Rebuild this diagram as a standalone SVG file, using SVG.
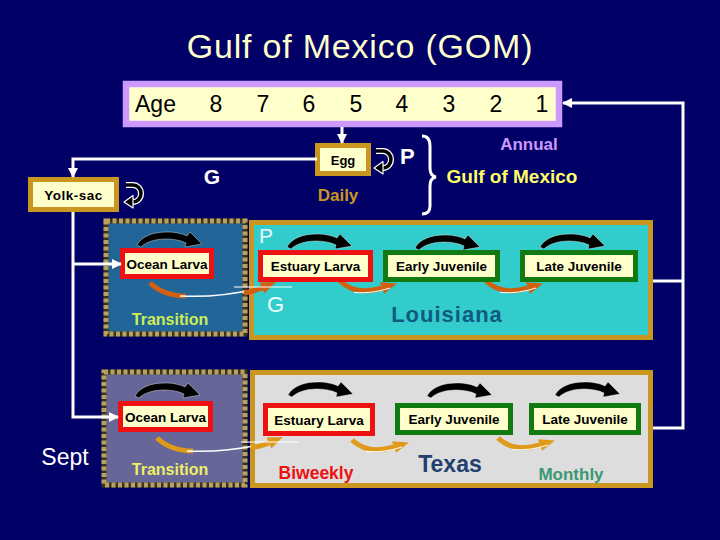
<svg xmlns="http://www.w3.org/2000/svg" width="720" height="540" viewBox="0 0 720 540">
<defs>
<style>
text{font-family:"Liberation Sans",Arial,Helvetica,sans-serif}
.bt{font-size:13.5px;font-weight:bold;fill:#000;text-anchor:middle}
.cream{fill:#FFFFCC}
.gold{stroke:#C9961F;stroke-width:5}
.red{stroke:#EE1111;stroke-width:5}
.green{stroke:#117A11;stroke-width:5}
.conn{fill:none;stroke:#fff;stroke-width:3}
.dotsbg{fill:none;stroke:#3A3520;stroke-width:5}
.dots{fill:none;stroke:#B8A060;stroke-width:5;stroke-dasharray:4 2.5}
.num{font-size:23px;fill:#000;text-anchor:middle}
</style>
<marker id="ah" markerUnits="userSpaceOnUse" markerWidth="10" markerHeight="10" refX="9" refY="5" orient="auto"><path d="M0,0 L10,5 L0,10 Z" fill="#fff"/></marker>
<path id="blk" d="M0,12 C5,3 16,-1 30,-1 C39,-1 46,1 50,3 L53,-1 L65,11 L48,14 L49,10 C43,7 36,6 29,6 C18,6 9,9 4,14 Z" fill="#000" stroke="#fff" stroke-width="0.4"/>
<g id="curl">
<path d="M3,3 H10 A8,8.5 0 0 1 10,20 H9" fill="none" stroke="#fff" stroke-width="6"/>
<path d="M3,3 H10 A8,8.5 0 0 1 10,20 H9" fill="none" stroke="#000" stroke-width="3.5"/>
<path d="M10,13.5 L10,26 L1,20 Z" fill="#000" stroke="#fff" stroke-width="1.2" stroke-linejoin="round"/>
</g>
<g id="orS">
<path d="M0,0 Q16,15 42,7" fill="none" stroke="currentColor" stroke-width="5"/>
<path d="M40,1.3 L57,2.4 L44,12.7 Z" fill="currentColor"/>
<path d="M14,11.5 Q32,13 50,7" fill="none" stroke="#fff" stroke-width="1"/>
</g>
<g id="orL">
<path d="M0,0 Q14,13 36,13" fill="none" stroke="currentColor" stroke-width="5"/>
<path d="M30,13 Q70,15 110,5" fill="none" stroke="#fff" stroke-width="1.5"/>
<path d="M94,10 Q105,8 112,5" fill="none" stroke="currentColor" stroke-width="5"/>
<path d="M109.7,-0.5 L126,-1 L114.3,10.5 Z" fill="currentColor"/>
<path d="M84,4 H142" fill="none" stroke="#fff" stroke-width="1"/>
</g>
</defs>

<rect x="0" y="0" width="720" height="540" fill="#000066"/>

<text id="title" x="360" y="58" font-size="34" letter-spacing="0.8" fill="#FFFFCC" text-anchor="middle">Gulf of Mexico (GOM)</text>

<g id="age-bar">
<rect x="126" y="84" width="433" height="40" fill="#FFFFCC" stroke="#CC99FF" stroke-width="6.5"/>
<text x="135" y="112" font-size="23" fill="#000">Age</text>
<text class="num" x="216" y="112">8</text>
<text class="num" x="263" y="112">7</text>
<text class="num" x="309" y="112">6</text>
<text class="num" x="356" y="112">5</text>
<text class="num" x="402" y="112">4</text>
<text class="num" x="449" y="112">3</text>
<text class="num" x="496" y="112">2</text>
<text class="num" x="542" y="112">1</text>
</g>

<g id="gom-labels">
<use href="#curl" x="373" y="148"/>
<use href="#curl" x="123" y="182"/>
<text x="212" y="184" font-size="21" font-weight="bold" fill="#fff" text-anchor="middle">G</text>
<text x="338" y="201" font-size="17" font-weight="bold" fill="#C9961F" text-anchor="middle">Daily</text>
<text x="400" y="164" font-size="22" font-weight="bold" fill="#fff">P</text>
<path d="M422,136 Q430,136 430,146 L430,168 Q430,176 436,177 Q430,178 430,186 L430,206 Q430,214 422,214" fill="none" stroke="#fff" stroke-width="3"/>
<text x="529" y="150" font-size="17" font-weight="bold" fill="#CC99FF" text-anchor="middle">Annual</text>
<text x="512" y="183" font-size="19" font-weight="bold" fill="#FFFF66" text-anchor="middle">Gulf of Mexico</text>
</g>

<g id="egg">
<rect x="317.5" y="145.5" width="51" height="28" class="cream gold"/>
<text x="343" y="165" font-size="13" font-weight="bold" text-anchor="middle">Egg</text>
</g>

<g id="yolk-sac">
<rect x="30.5" y="179.5" width="86" height="30" class="cream gold"/>
<text class="bt" x="73.5" y="200" letter-spacing="0.5">Yolk-sac</text>
</g>

<g id="transition-la">
<rect x="106" y="221" width="139" height="113" fill="#226699"/>
<rect x="106" y="221" width="139" height="113" class="dotsbg"/>
<rect x="106" y="221" width="139" height="113" class="dots"/>
<text x="170" y="325" font-size="16" font-weight="bold" fill="#CCEE55" text-anchor="middle">Transition</text>
</g>

<g id="louisiana">
<rect x="251.5" y="222.5" width="399" height="115" fill="#33CCCC" class="gold"/>
<text x="259" y="243" font-size="21" fill="#EEF6FF">P</text>
<text x="267" y="312" font-size="22" fill="#EEFFFF">G</text>
<text x="447" y="322" font-size="22" font-weight="bold" letter-spacing="1" fill="#105A80" text-anchor="middle">Louisiana</text>
</g>

<g id="transition-tx">
<rect x="104" y="372" width="141" height="113" fill="#666699"/>
<rect x="104" y="372" width="141" height="113" class="dotsbg"/>
<rect x="104" y="372" width="141" height="113" class="dots"/>
<text x="170" y="475" font-size="16" font-weight="bold" fill="#EEEE66" text-anchor="middle">Transition</text>
</g>

<g id="texas">
<rect x="252.5" y="372.5" width="398" height="113" fill="#DDDDDD" class="gold"/>
<text x="316" y="479" font-size="17.5" font-weight="bold" fill="#EE1111" text-anchor="middle">Biweekly</text>
<text x="450" y="472" font-size="23" font-weight="bold" fill="#223F6E" text-anchor="middle">Texas</text>
<text x="571" y="480" font-size="17" font-weight="bold" fill="#3A9970" text-anchor="middle">Monthly</text>
</g>

<text id="sept" x="65" y="465" font-size="23" fill="#fff" text-anchor="middle">Sept</text>

<g id="stage-arrows">
<use href="#blk" x="137" y="233"/>
<use href="#blk" x="287" y="235"/>
<use href="#blk" x="415" y="236"/>
<use href="#blk" x="540" y="235"/>
<use href="#blk" x="135" y="384"/>
<use href="#blk" x="288" y="383"/>
<use href="#blk" x="427" y="384"/>
<use href="#blk" x="555" y="383"/>
<use href="#orL" x="150" y="283" style="color:#D2600F"/>
<use href="#orS" x="340" y="281" style="color:#D2600F"/>
<use href="#orS" x="486" y="281" style="color:#D2600F"/>
<use href="#orL" x="157" y="438" style="color:#E09A1A"/>
<use href="#orS" x="352" y="440" style="color:#E09A1A"/>
<use href="#orS" x="498" y="438" style="color:#E09A1A"/>
</g>

<g id="ocean-larva-la">
<rect x="122.5" y="250.5" width="89" height="26" class="cream red"/>
<text class="bt" x="167" y="268.5">Ocean Larva</text>
</g>
<g id="estuary-larva-la">
<rect x="260.5" y="252.5" width="110" height="27" class="cream red"/>
<text class="bt" x="315.5" y="271">Estuary Larva</text>
</g>
<g id="early-juvenile-la">
<rect x="385.5" y="252.5" width="112" height="27" class="cream green"/>
<text class="bt" x="441.5" y="271">Early Juvenile</text>
</g>
<g id="late-juvenile-la">
<rect x="522.5" y="252.5" width="113" height="27" class="cream green"/>
<text class="bt" x="579" y="271">Late Juvenile</text>
</g>

<g id="ocean-larva-tx">
<rect x="120.5" y="403.5" width="90" height="26" class="cream red"/>
<text class="bt" x="165.5" y="421.5">Ocean Larva</text>
</g>
<g id="estuary-larva-tx">
<rect x="265.5" y="405.5" width="107" height="28" class="cream red"/>
<text class="bt" x="319" y="424.5">Estuary Larva</text>
</g>
<g id="early-juvenile-tx">
<rect x="397.5" y="405.5" width="113" height="27" class="cream green"/>
<text class="bt" x="454" y="424">Early Juvenile</text>
</g>
<g id="late-juvenile-tx">
<rect x="531.5" y="405.5" width="107" height="27" class="cream green"/>
<text class="bt" x="585" y="424">Late Juvenile</text>
</g>

<g id="connectors">
<path class="conn" d="M342,127 V143" marker-end="url(#ah)"/>
<path class="conn" d="M317,159 H73 V177" marker-end="url(#ah)"/>
<path class="conn" d="M73,212 V417 H118" marker-end="url(#ah)"/>
<path class="conn" d="M73,264 H121" marker-end="url(#ah)"/>
<path class="conn" d="M653,281 H683"/>
<path class="conn" d="M653,428 H683 V103 H563" marker-end="url(#ah)"/>
</g>
</svg>
